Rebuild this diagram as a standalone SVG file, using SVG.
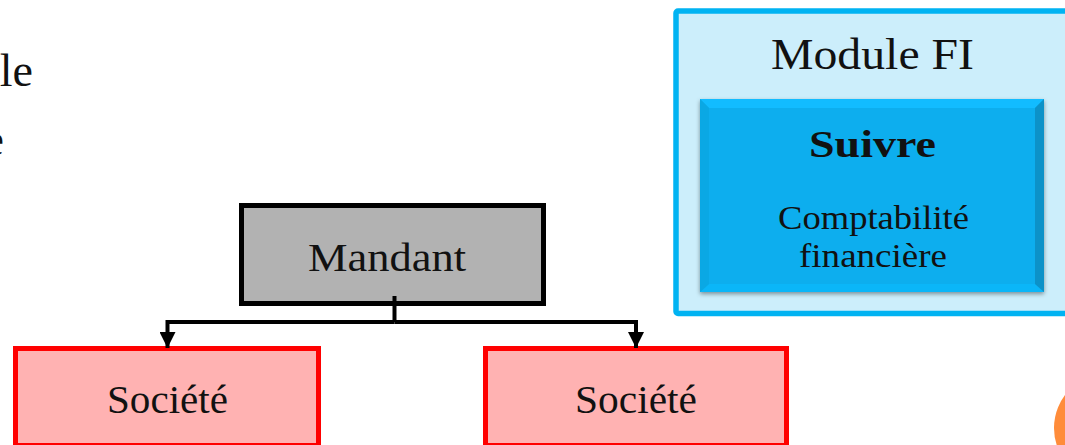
<svg xmlns="http://www.w3.org/2000/svg" width="1065" height="445" viewBox="0 0 1065 445">
<defs>
<style>
text{font-family:"Liberation Serif","DejaVu Serif",serif;fill:#111;text-anchor:middle}
.soc{fill:#ffb2b2;stroke:#f00;stroke-width:5}
.lbl{font-size:39px}
.sm{font-size:33px}
</style>
<marker id="arr" markerUnits="userSpaceOnUse" markerWidth="16" markerHeight="16" refX="16" refY="8" orient="auto"><path d="M0 0L16 8L0 16Z" fill="#000"/></marker>
<filter id="sh" x="-5%" y="-5%" width="110%" height="110%"><feDropShadow dx="0" dy="2" stdDeviation="2" flood-color="#000" flood-opacity=".4"/></filter>
</defs>
<rect width="1065" height="445" fill="#fff"/>
<g id="body-text"><text x="33" y="86" style="text-anchor:end;font-size:46px">le</text><text x="4" y="155" style="text-anchor:end;font-size:46px">e</text></g>
<g id="module-fi">
<rect x="676" y="11" width="410" height="302.500" rx="2" fill="#cceefb" stroke="#00b3f2" stroke-width="5.500"/>
<text x="872.500" y="69" style="font-size:45px" textLength="203" lengthAdjust="spacingAndGlyphs">Module FI</text>
</g>
<g id="suivre">
<g filter="url(#sh)"><rect x="700" y="99" width="344" height="193" fill="#09aeee"/></g>
<path d="M700 99H1044L1035 108H709Z" fill="#12bcff"/>
<path d="M700 292H1044L1035 284H709Z" fill="#0bb6f8"/>
<path d="M700 99V292L709 284V108Z" fill="#0aa8e4"/>
<path d="M1044 99V292L1035 284V108Z" fill="#0c92c8"/>
<text x="872.500" y="157" style="font-size:38px;font-weight:bold" textLength="127" lengthAdjust="spacingAndGlyphs">Suivre</text>
<text x="873.500" y="229" class="sm" textLength="191" lengthAdjust="spacingAndGlyphs">Comptabilité</text>
<text x="873" y="267" class="sm" textLength="148" lengthAdjust="spacingAndGlyphs">financière</text>
</g>
<g id="mandant">
<rect x="241.500" y="205.500" width="302" height="98" fill="#b2b2b2" stroke="#000" stroke-width="5"/>
<text x="387" y="271" class="lbl" textLength="158" lengthAdjust="spacingAndGlyphs">Mandant</text>
</g>
<g id="societe-1">
<rect x="15.500" y="348.500" width="303" height="97" class="soc"/>
<text x="167.500" y="413" class="lbl" textLength="121" lengthAdjust="spacingAndGlyphs">Société</text>
</g>
<g id="societe-2">
<rect x="485.500" y="348.500" width="301" height="97" class="soc"/>
<text x="636" y="413" class="lbl" textLength="122" lengthAdjust="spacingAndGlyphs">Société</text>
</g>
<g id="connectors" fill="none" stroke="#000" stroke-width="4">
<path d="M394.500 296V322"/>
<path d="M394.500 322H167.500V348" marker-end="url(#arr)"/>
<path d="M394.500 322H636V348" marker-end="url(#arr)"/>
</g>
<circle id="badge" cx="1109" cy="428" r="55" fill="#ff8c3a"/>
</svg>
